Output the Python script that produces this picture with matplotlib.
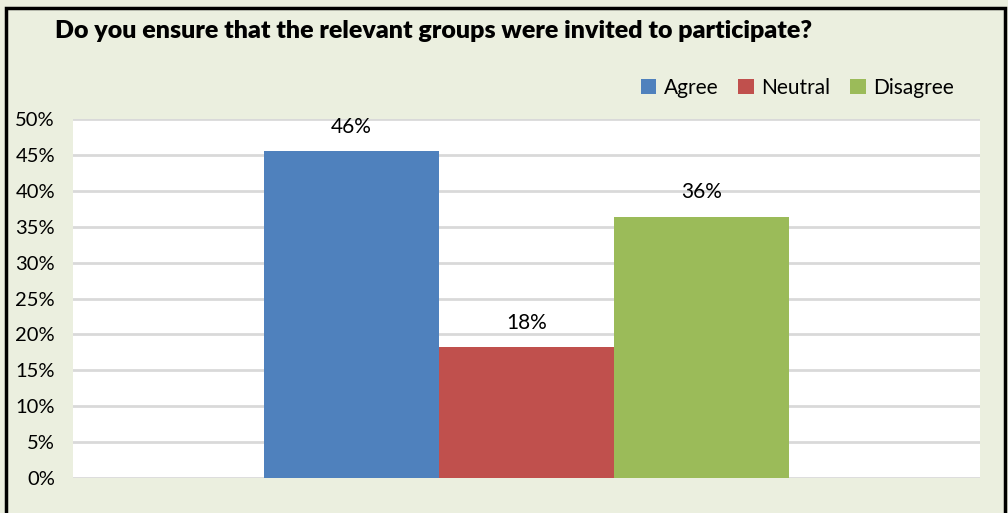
import matplotlib.pyplot as plt
from matplotlib.patches import Rectangle

# response shares (percent)
categories = ["Agree", "Neutral", "Disagree"]
values = [45.5, 18.2, 36.4]
colors = ["#4F81BD", "#C0504D", "#9BBB59"]
yticks = [0, 5, 10, 15, 20, 25, 30, 35, 40, 45, 50]
title = "Do you ensure that the relevant groups were invited to participate?"

plt.rcParams["font.family"] = ["Lato", "DejaVu Sans"]

fig = plt.figure(figsize=(10.08, 5.13), dpi=100)
fig.patch.set_facecolor("#EBEFDF")

# dark frame around the chart area
fig.add_artist(Rectangle((6 / 1008, -0.05), 999 / 1008, 1.05 - 8 / 513,
                         transform=fig.transFigure, fill=False,
                         edgecolor="black", linewidth=2.5))

ax = fig.add_axes([73 / 1008, 1 - 478 / 513, 907 / 1008, 359 / 513])
ax.set_facecolor("white")

width = 0.193
for i, (cat, v, c) in enumerate(zip(categories, values, colors)):
    x = (i - 1) * width
    ax.bar(x, v, width=width, color=c, label=cat, zorder=3)
    ax.text(x, v + 2.0, f"{v:.0f}%", ha="center", va="bottom", fontsize=15)

ax.set_xlim(-0.5, 0.5)
ax.set_ylim(0, 50)
ax.set_yticks(yticks)
ax.set_yticklabels([f"{t}%" for t in yticks], fontsize=14.5)
ax.set_xticks([])
ax.tick_params(axis="y", length=0, pad=13)
ax.grid(axis="y", color="#D9D9D9", linewidth=2, zorder=0)
for s in ax.spines.values():
    s.set_visible(False)

fig.text(55 / 1008, 1 - 31 / 513, title, fontsize=18, fontweight="heavy",
         va="center", ha="left")

leg = fig.legend(loc="center right", bbox_to_anchor=(962 / 1008, 1 - 88 / 513),
                 ncol=3, frameon=False, fontsize=15, handlelength=0.75,
                 handleheight=0.75, handletextpad=0.35, columnspacing=0.95,
                 borderaxespad=0)

fig.savefig("out.png", dpi=100, facecolor=fig.get_facecolor())
